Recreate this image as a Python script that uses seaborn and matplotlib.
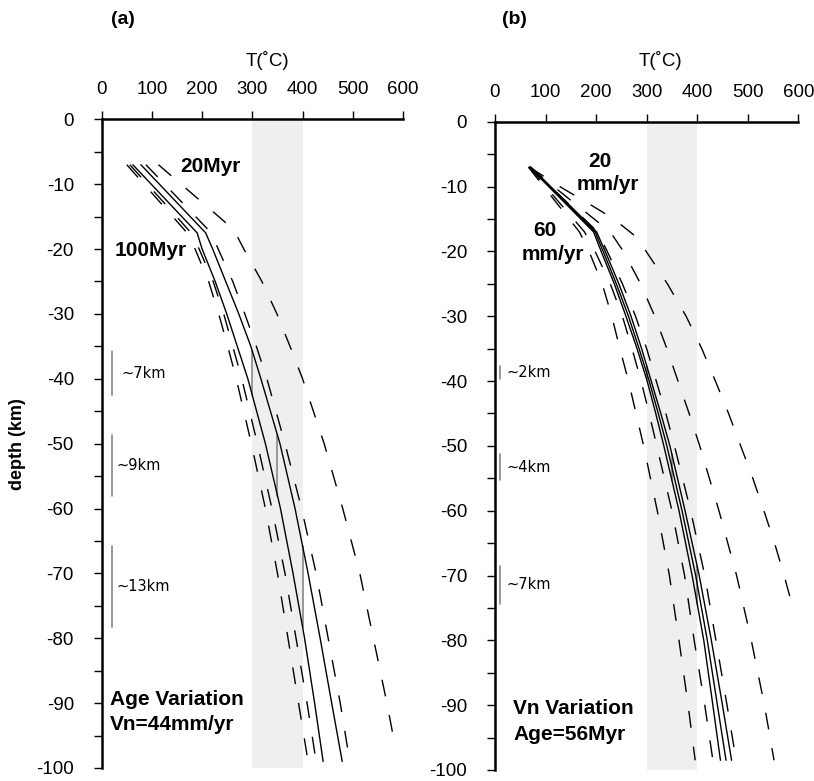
import numpy as np
import pandas as pd
import matplotlib
matplotlib.use("Agg")
import matplotlib.pyplot as plt
import seaborn as sns

sns.set_theme(style="ticks")
plt.rcParams["font.family"] = ["Liberation Sans", "DejaVu Sans"]
plt.rcParams["axes.unicode_minus"] = False
plt.rcParams["text.color"] = "black"

# ---------------- Panel (a): age variation, Vn = 44 mm/yr ----------------
depth_a = [7, 17.5, 20, 25, 30, 35, 40, 50, 60, 70, 80, 90, 99]
temp_a_100myr = [50, 170, 186, 213, 233, 251, 268, 298, 326, 350, 371, 392, 411]
temp_a_dash2 = [56, 178, 194, 222, 243, 261, 279, 310, 339, 365, 387, 409, 427]
temp_a_solid1 = [62, 190, 200, 226, 249, 270, 291, 326, 356, 381, 404, 424, 441]
temp_a_solid2 = [78, 207, 221, 247, 273, 297, 317, 355, 385, 411, 435, 458, 479]
temp_a_dash3 = [88, 218, 232, 261, 285, 308, 329, 365, 398, 427, 451, 475, 494]
depth_a_20myr = [7, 17, 20, 25, 30, 35, 40, 50, 60, 70, 80, 90, 96.5]
temp_a_20myr = [113, 263, 283, 319, 349, 375, 400, 443, 480, 514, 541, 568, 584]

# ---------------- Panel (b): Vn variation, age = 56 Myr ----------------
depth_b = [7, 17, 20, 25, 30, 35, 40, 45, 50, 60, 70, 80, 90, 98.5]
temp_b_60mm = [66, 167, 186, 212, 231, 247, 264, 279, 294, 321, 345, 364, 382, 396]
temp_b_dash2 = [67, 177, 198, 228, 252, 271, 289, 305, 320, 350, 375, 394, 415, 431]
temp_b_solid1 = [68, 195, 210, 236, 259, 281, 301, 318, 334, 364, 390, 413, 431, 446]
temp_b_solid2 = [70, 198, 214, 240, 264, 285, 305, 323, 340, 370, 397, 420, 440, 457]
temp_b_solid3 = [71, 201, 218, 245, 269, 290, 309, 328, 346, 376, 404, 428, 450, 468]
temp_b_dash3 = [70, 203, 222, 252, 278, 300, 319, 338, 355, 387, 415, 437, 459, 477]
temp_b_dash4 = [68, 228, 254, 288, 316, 340, 362, 384, 405, 443, 478, 507, 533, 552]
depth_b_20mm = [7, 10, 13, 15, 18, 20, 22, 25, 30, 35, 40, 45, 50, 55, 60, 65, 70, 75.2]
temp_b_20mm = [68, 128, 193, 235, 283, 299, 316, 341, 378, 409, 436, 462, 486,
               510, 532, 553, 572, 590]

# temperatures at which the depth spread between the bounding solid curves is marked
marker_temps = [300, 350, 400]
spread_labels_a = ["~7km", "~9km", "~13km"]
spread_labels_b = ["~2km", "~4km", "~7km"]

x_ticks = [0, 100, 200, 300, 400, 500, 600]
y_ticks = [0, -10, -20, -30, -40, -50, -60, -70, -80, -90, -100]

DASH = (0, (12.2, 13.7))


def to_frame(depth, temp):
    return pd.DataFrame({"T": temp, "z": [-d for d in depth]})


def draw_curve(ax, depth, temp, dashed):
    df = to_frame(depth, temp)
    sns.lineplot(data=df, x="T", y="z", sort=False, estimator=None, ax=ax,
                 color="black", linewidth=1.0,
                 linestyle=DASH if dashed else "-")


def style_axis(ax):
    ax.axvspan(300, 400, color="#efefef", zorder=0, lw=0)
    ax.set_xlim(0, 600)
    ax.set_ylim(-100, 0)
    ax.xaxis.set_ticks_position("top")
    ax.set_xticks(x_ticks)
    ax.set_xticklabels([str(v) for v in x_ticks])
    ax.set_yticks(y_ticks)
    ax.set_yticklabels([str(v) for v in y_ticks])
    ax.set_yticks(np.arange(-95, 0, 10), minor=True)
    ax.set_xlabel("")
    ax.set_ylabel("")
    for s in ["right", "bottom"]:
        ax.spines[s].set_visible(False)
    for s in ["left", "top"]:
        ax.spines[s].set_linewidth(1.8)
        ax.spines[s].set_color("black")
    ax.tick_params(axis="x", which="major", direction="out", length=6, width=1,
                   pad=9, labelsize=13.5, top=True, bottom=False,
                   labeltop=True, labelbottom=False, color="black",
                   labelcolor="black")
    ax.tick_params(axis="x", which="minor", top=False, bottom=False)
    ax.tick_params(axis="y", which="both", direction="out", length=6, width=1,
                   pad=14, labelsize=13.5, left=True, color="black",
                   labelcolor="black")


def depth_at(temp_curve, depth, t):
    return float(np.interp(t, temp_curve, depth))


def spread_markers(ax, hot, cold, depth, labels, bar_x, label_x):
    for t, lab, lx in zip(marker_temps, labels, label_x):
        d_top = depth_at(hot, depth, t)
        d_bot = depth_at(cold, depth, t)
        ax.plot([t, t], [-d_top, -d_bot], color="#888888", lw=1.2, zorder=1)
        ax.plot([bar_x, bar_x], [-d_top, -d_bot], color="#888888", lw=1.2)
        ax.text(lx, -(d_top + d_bot) / 2, lab, fontsize=10.5,
                family="DejaVu Sans", ha="left", va="center", color="black")


fig = plt.figure(figsize=(8.14, 7.81), dpi=100)
ax_a = fig.add_axes([101.7 / 814, 1 - 768 / 781, 301.3 / 814, 648.7 / 781])
ax_b = fig.add_axes([495 / 814, 1 - 770 / 781, 303.3 / 814, 648.3 / 781])

# panel (a)
draw_curve(ax_a, depth_a, temp_a_100myr, True)
draw_curve(ax_a, depth_a, temp_a_dash2, True)
draw_curve(ax_a, depth_a, temp_a_solid1, False)
draw_curve(ax_a, depth_a, temp_a_solid2, False)
draw_curve(ax_a, depth_a, temp_a_dash3, True)
draw_curve(ax_a, depth_a_20myr, temp_a_20myr, True)
spread_markers(ax_a, temp_a_solid2, temp_a_solid1, depth_a, spread_labels_a,
               20, [40, 28.5, 30])
style_axis(ax_a)

bold = dict(fontsize=15, fontweight="bold", ha="left", va="baseline",
            color="black")
ax_a.text(156, -8.2, "20Myr", **bold)
ax_a.text(26.5, -21.1, "100Myr", **bold)
ax_a.text(16.5, -90.3, "Age Variation", **bold)
ax_a.text(16.5, -94.1, "Vn=44mm/yr", **bold)

# panel (b)
draw_curve(ax_b, depth_b, temp_b_60mm, True)
draw_curve(ax_b, depth_b, temp_b_dash2, True)
draw_curve(ax_b, depth_b, temp_b_solid1, False)
draw_curve(ax_b, depth_b, temp_b_solid2, False)
draw_curve(ax_b, depth_b, temp_b_solid3, False)
draw_curve(ax_b, depth_b, temp_b_dash3, True)
draw_curve(ax_b, depth_b, temp_b_dash4, True)
draw_curve(ax_b, depth_b_20mm, temp_b_20mm, True)
spread_markers(ax_b, temp_b_solid3, temp_b_solid1, depth_b, spread_labels_b,
               10, [22, 22, 22])
style_axis(ax_b)

ax_b.text(184, -6.95, "20", **bold)
ax_b.text(161.6, -10.5, "mm/yr", **bold)
ax_b.text(76, -17.7, "60", **bold)
ax_b.text(53, -21.4, "mm/yr", **bold)
ax_b.text(36, -91.4, "Vn Variation", **bold)
ax_b.text(36, -95.4, "Age=56Myr", **bold)

# axis titles and panel letters
fig.text(267 / 814, 1 - 60 / 781, "T(˚C)", fontsize=13.5, ha="center",
         va="center", color="black")
fig.text(660 / 814, 1 - 60 / 781, "T(˚C)", fontsize=13.5, ha="center",
         va="center", color="black")
fig.text(18 / 814, 1 - 443.7 / 781, "depth (km)", fontsize=13, fontweight="bold",
         rotation=90, ha="center", va="center", color="black")
fig.text(123 / 814, 1 - 20 / 781, "(a)", fontsize=14, fontweight="bold",
         ha="center", va="center", color="black")
fig.text(514 / 814, 1 - 20 / 781, "(b)", fontsize=14, fontweight="bold",
         ha="center", va="center", color="black")

fig.savefig("out.png", dpi=100)
